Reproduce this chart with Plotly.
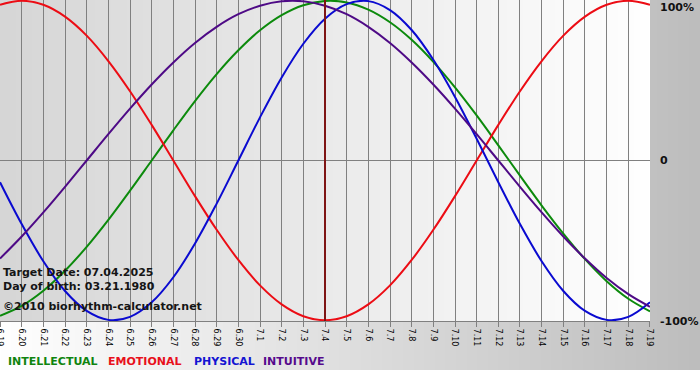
import base64
import struct
import zlib

import numpy as np
import plotly.graph_objects as go

# ---------------- data ----------------
day_labels = ["6.19", "6.20", "6.21", "6.22", "6.23", "6.24", "6.25", "6.26", "6.27",
              "6.28", "6.29", "6.30", "7.1", "7.2", "7.3", "7.4", "7.5", "7.6", "7.7",
              "7.8", "7.9", "7.10", "7.11", "7.12", "7.13", "7.14", "7.15", "7.16",
              "7.17", "7.18", "7.19"]

intellectual = [-0.972, -0.910, -0.815, -0.690, -0.541, -0.372, -0.189, 0.000, 0.189,
                0.372, 0.541, 0.690, 0.815, 0.910, 0.972, 0.999, 0.990, 0.945, 0.866,
                0.756, 0.618, 0.458, 0.282, 0.095, -0.095, -0.282, -0.458, -0.618,
                -0.756, -0.866, -0.945]
emotional = [0.975, 1.000, 0.975, 0.901, 0.782, 0.623, 0.434, 0.223, 0.000, -0.223,
             -0.434, -0.623, -0.782, -0.901, -0.975, -1.000, -0.975, -0.901, -0.782,
             -0.623, -0.434, -0.223, 0.000, 0.223, 0.434, 0.623, 0.782, 0.901, 0.975,
             1.000, 0.975]
physical = [-0.136, -0.398, -0.631, -0.817, -0.942, -0.998, -0.979, -0.888, -0.731,
            -0.520, -0.270, 0.000, 0.270, 0.520, 0.731, 0.888, 0.979, 0.998, 0.942,
            0.817, 0.631, 0.398, 0.136, -0.136, -0.398, -0.631, -0.817, -0.942,
            -0.998, -0.979, -0.888]
intuitive = [-0.614, -0.476, -0.325, -0.165, 0.000, 0.165, 0.325, 0.476, 0.614, 0.736,
             0.837, 0.916, 0.969, 0.997, 0.997, 0.969, 0.916, 0.837, 0.736, 0.614,
             0.476, 0.325, 0.165, 0.000, -0.165, -0.325, -0.476, -0.614, -0.736,
             -0.837, -0.916]

series_names = ["INTELLECTUAL", "EMOTIONAL", "PHYSICAL", "INTUITIVE"]
series_values = [intellectual, emotional, physical, intuitive]
target_label = "7.4"
y_tick_vals = [1, 0, -1]
y_tick_text = ["100%", "0", "-100%"]
info_lines = ["Target Date: 07.04.2025", "Day of birth: 03.21.1980",
              "\u00a92010 biorhythm-calculator.net"]

# ---------------- style / layout ----------------
W, H = 700, 380
PL, PT, PW, PH = 0, 0, 650, 321          # plot area in pixels
YR = 1.005
line_colors = ["#0c8a0c", "#ec0c14", "#0a0ad0", "#4e0a86"]
legend_colors = ["#0f840f", "#e8101c", "#1414d2", "#560a8c"]
legend_x = [7, 107, 193, 262]

x_idx = list(range(len(day_labels)))


def png_uri(arr):
    h, w, _ = arr.shape
    raw = b"".join(b"\x00" + arr[r].tobytes() for r in range(h))

    def chunk(tag, data):
        c = struct.pack(">I", len(data)) + tag + data
        return c + struct.pack(">I", zlib.crc32(tag + data) & 0xFFFFFFFF)

    png = (b"\x89PNG\r\n\x1a\n"
           + chunk(b"IHDR", struct.pack(">IIBBBBB", w, h, 8, 2, 0, 0, 0))
           + chunk(b"IDAT", zlib.compress(raw, 9))
           + chunk(b"IEND", b""))
    return "data:image/png;base64," + base64.b64encode(png).decode()


# background: canvas gradient white->gray, plot gradient gray->white
xs = np.arange(W)
canvas_row = 255 - 66 * xs / (W - 1)
bg = np.tile(canvas_row, (H, 1))
bg[370:, :] = 255
plot_row = 0xD6 + (0xFF - 0xD6) * np.arange(PW) / (PW - 1)
bg[PT:PT + PH, PL:PL + PW] = plot_row
bg = np.clip(bg, 0, 255).astype(np.uint8)
img = np.repeat(bg[:, :, None], 3, axis=2)
bg_uri = png_uri(np.ascontiguousarray(img))


def px_to_paper_y(py):
    return 1 - (py - PT) / PH


fig = go.Figure()
for name, vals, col in zip(series_names, series_values, line_colors):
    fig.add_trace(go.Scatter(x=x_idx, y=vals, mode="lines", name=name,
                             line=dict(color=col, width=2, shape="spline", smoothing=1),
                             hoverinfo="skip"))

target_x = day_labels.index(target_label)
fig.add_shape(type="line", xref="x", yref="paper", x0=target_x, x1=target_x,
              y0=0, y1=1, line=dict(color="#7e1414", width=2), layer="above")

annotations = []
# right-side percent labels
label_pix_y = [7, 161, 321]
for v, t, py in zip(y_tick_vals, y_tick_text, label_pix_y):
    annotations.append(dict(text=t, xref="paper", yref="paper", x=(659 - PL) / PW,
                            y=px_to_paper_y(py), xanchor="left", yanchor="middle",
                            showarrow=False, borderpad=0,
                            font=dict(family="DejaVu Sans", size=11, color="#111111",
                                      weight="bold")))
# info lines
for t, py in zip(info_lines, [272, 286, 306]):
    annotations.append(dict(text=t, xref="paper", yref="paper", x=2 / PW,
                            y=px_to_paper_y(py), xanchor="left", yanchor="middle",
                            showarrow=False, borderpad=0,
                            font=dict(family="DejaVu Sans", size=11, color="#151515",
                                      weight="bold")))
# legend words
for t, col, lx in zip(series_names, legend_colors, legend_x):
    annotations.append(dict(text=t, xref="paper", yref="paper", x=lx / PW,
                            y=px_to_paper_y(362), xanchor="left", yanchor="middle",
                            showarrow=False, borderpad=0,
                            font=dict(family="DejaVu Sans", size=11, color=col,
                                      weight="bold")))

n = len(day_labels) - 1
fig.update_layout(
    width=W, height=H,
    margin=dict(l=PL, r=W - PL - PW, t=PT, b=H - PT - PH, pad=0, autoexpand=False),
    paper_bgcolor="white", plot_bgcolor="rgba(0,0,0,0)",
    showlegend=False,
    annotations=annotations,
    images=[dict(source=bg_uri, xref="paper", yref="paper", x=-PL / PW, y=1 + PT / PH,
                 sizex=W / PW, sizey=H / PH, xanchor="left", yanchor="top",
                 sizing="stretch", layer="below")],
    xaxis=dict(range=[-0.0005, n + 0.0005], tickvals=x_idx, ticktext=day_labels,
               tickangle=90, showgrid=True, gridcolor="#808080", gridwidth=1,
               ticks="outside", ticklen=5, tickcolor="#808080", showline=True,
               linecolor="#808080", linewidth=1, zeroline=False,
               ticklabeloverflow="allow", automargin=False,
               tickfont=dict(family="DejaVu Sans", size=8, color="#000000"),
               fixedrange=True),
    yaxis=dict(range=[-YR, YR], showgrid=False, showticklabels=False, ticks="",
               zeroline=True, zerolinecolor="#808080", zerolinewidth=1,
               automargin=False, fixedrange=True),
)

fig.write_html("out.html", config={"displayModeBar": False},
               post_script="document.body.style.margin='0';"
                           "document.body.style.padding='0';"
                           "document.body.style.overflow='hidden';")
